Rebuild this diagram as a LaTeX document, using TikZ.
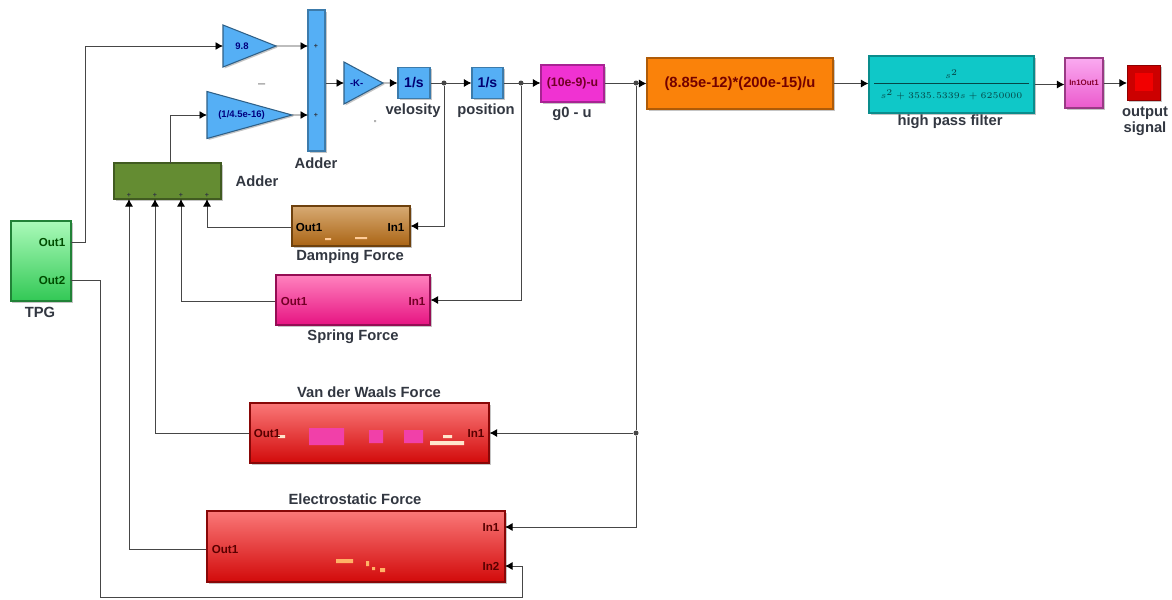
\documentclass[tikz,border=0pt]{standalone}
\usepackage{fontspec}
\setmainfont{Liberation Sans}
\usetikzlibrary{arrows.meta,shapes.geometric,shadows}
\definecolor{ink}{RGB}{50,55,65}
\definecolor{wire}{RGB}{70,70,70}
\definecolor{sky}{RGB}{85,175,245}
\definecolor{moss}{RGB}{100,140,50}
\definecolor{tangerine}{RGB}{250,130,10}
\definecolor{teal}{RGB}{15,200,200}
\definecolor{fuchsia}{RGB}{240,50,210}
\definecolor{mint}{RGB}{170,250,185}
\definecolor{leaf}{RGB}{50,200,85}
\definecolor{orchid}{RGB}{250,170,240}
\definecolor{plum}{RGB}{235,90,205}
\definecolor{sand}{RGB}{215,170,115}
\definecolor{umber}{RGB}{170,100,20}
\definecolor{rose}{RGB}{255,130,190}
\definecolor{cerise}{RGB}{230,20,130}
\definecolor{salmon}{RGB}{250,120,120}
\definecolor{crimson}{RGB}{210,10,10}
\newcommand{\zw}[2]{\makebox[0pt]{\hspace{#1}#2}}
\tikzset{
  >={Latex[length=1.5mm,width=1.6mm,black]},
  flow/.style={->,draw=wire,line width=0.55pt},
  link/.style={draw=wire,line width=0.55pt},
  blok/.style={draw=#1!70!black,fill=#1,line width=0.6pt,inner sep=0pt,align=center,
    drop shadow={opacity=0.45,shadow xshift=0.3mm,shadow yshift=-0.3mm}},
  gain/.style={isosceles triangle,isosceles triangle stretches,shape border rotate=0,anchor=west,
    draw=sky!55!black,fill=sky,line width=0.6pt,inner sep=0pt,outer sep=0pt,
    font=\fontsize{5.4}{5.6}\selectfont\bfseries,text=blue!50!black,
    drop shadow={opacity=0.45,shadow xshift=0.3mm,shadow yshift=-0.3mm}},
  subsys/.style n args={2}{draw=#2!65!black,top color=#1,bottom color=#2,line width=0.6pt,inner sep=0pt,
    drop shadow={opacity=0.45,shadow xshift=0.3mm,shadow yshift=-0.3mm}},
  tag/.style={font=\fontsize{8.4}{9.2}\selectfont\bfseries,text=ink,align=center},
  port/.style={font=\fontsize{6.6}{7}\selectfont\bfseries,text=#1},
  tick/.style={font=\fontsize{4}{4}\selectfont\bfseries,text=ink,inner sep=0pt},
  dot/.style={circle,fill=wire,inner sep=0pt,minimum size=1mm},
}
\begin{document}
\begin{tikzpicture}[x=0.2mm,y=-0.2mm]
  \useasboundingbox (0,0) rectangle (1172,599);
  \fill[white] (0,0) rectangle (1172,599);
  % top row
  \node[subsys={mint}{leaf},minimum width=12mm,minimum height=16mm] (tpg) at (41,261) {};
  \node[gain,minimum height=10.6mm,minimum width=8.4mm] (g1) at (223,46) {\zw{2.8mm}{9.8}};
  \node[gain,minimum height=17mm,minimum width=9.4mm] (g2) at (207,115) {\zw{8mm}{(1/4.5e-16)}};
  \node[blok=sky,minimum width=3.4mm,minimum height=28.2mm] (sum) at (316.5,80.5) {};
  \node[gain,minimum height=7.8mm,minimum width=8.4mm] (g3) at (344,83) {\zw{0.8mm}{-K-}};
  \node[blok=sky,minimum width=6.4mm,minimum height=6.2mm,font=\fontsize{8}{8}\selectfont\bfseries,text=blue!45!black] (int1) at (414,83) {1/s};
  \node[blok=sky,minimum width=6.2mm,minimum height=6.2mm,font=\fontsize{8}{8}\selectfont\bfseries,text=blue!45!black] (int2) at (487.5,83) {1/s};
  \node[blok=fuchsia,minimum width=12.6mm,minimum height=7.4mm,font=\fontsize{7}{8}\selectfont\bfseries,text=purple!60!black] (gap) at (572.5,83.5) {(10e-9)-u};
  \node[blok=tangerine,minimum width=37.2mm,minimum height=10.2mm,font=\fontsize{8.4}{9}\selectfont\bfseries,text=red!45!black] (cap) at (740,83.5) {(8.85e-12)*(200e-15)/u};
  \node[blok=teal,minimum width=33mm,minimum height=11.4mm] (hpf) at (951.5,84.5) {};
  \node[font=\fontsize{5.5}{5.5}\selectfont,text=teal!35!black] (hpfnum) at (951.5,74) {$s^2$};
  \node[font=\fontsize{5.5}{5.5}\selectfont,text=teal!35!black] (hpfden) at (951.5,95) {$s^2 + 3535.5339s + 6250000$};
  \draw[teal!35!black,line width=0.5pt] (hpfden.north west) -- (hpfden.north east);
  \node[subsys={orchid}{plum},minimum width=7.6mm,minimum height=10mm,font=\fontsize{4.5}{5}\selectfont\bfseries,text=purple!70!black] (io) at (1084,83) {In1Out1};
  \node[blok=red!80!black,minimum width=6.6mm,minimum height=7mm] (scope) at (1144,83) {};
  \fill[red!95!black] (1135,73) rectangle (1153,91);
  % force blocks
  \node[subsys={moss}{moss},minimum width=21.4mm,minimum height=7.2mm] (add) at (167.5,181) {};
  \node[subsys={sand}{umber},minimum width=23.6mm,minimum height=8mm] (damp) at (351,226) {};
  \node[subsys={rose}{cerise},minimum width=30.8mm,minimum height=10mm] (spring) at (353,300) {};
  \node[subsys={salmon}{crimson},minimum width=47.8mm,minimum height=12mm] (vdw) at (369.5,433) {};
  \node[subsys={salmon}{crimson},minimum width=59.6mm,minimum height=14.2mm] (elec) at (356,546.5) {};
  \fill[orange!40] (325,238) rectangle (331,240) (355,237) rectangle (367,239);
  \fill[magenta!75] (309,428) rectangle (344,445) (369,430) rectangle (383,443) (404,430) rectangle (423,443);
  \fill[orange!20] (278,435) rectangle (285,438) (443,435) rectangle (452,438) (430,441) rectangle (464,445);
  \fill[orange!60] (336,559) rectangle (353,563) (366,561) rectangle (369,566) (372,567) rectangle (375,570) (380,568) rectangle (385,572);
  % ports
  \node[port=green!30!black] (tpgo1) at (52,242) {Out1};
  \node[port=green!30!black] (tpgo2) at (52,280) {Out2};
  \node[port=black] (dampo) at (309,227) {Out1};
  \node[port=black] (dampi) at (396,227) {In1};
  \node[port=purple!60!black] (springo) at (294,301) {Out1};
  \node[port=purple!60!black] (springi) at (417,301) {In1};
  \node[port=red!35!black] (vdwo) at (267,433) {Out1};
  \node[port=red!35!black] (vdwi) at (476,433) {In1};
  \node[port=red!35!black] (eleco) at (225,549) {Out1};
  \node[port=red!35!black] (eleci1) at (491,527) {In1};
  \node[port=red!35!black] (eleci2) at (491,566) {In2};
  \node[tick] (sump1) at (316,46) {+};
  \node[tick] (sump2) at (316,115) {+};
  \foreach \x in {129,155,181,207} \node[tick] (addp\x) at (\x,195) {+};
  % labels
  \node[tag] (ltpg) at (40,312) {TPG};
  \node[tag] (lsum) at (316,163) {Adder};
  \node[tag] (ladd) at (257,181) {Adder};
  \node[tag] (lvel) at (413,111) {velosity};
  \node[tag] (lpos) at (486,111) {position};
  \node[tag] (lgap) at (572,114) {g0 - u};
  \node[tag] (lhpf) at (950,122) {high pass filter};
  \node[tag] (lout) at (1145,121) {output\\signal};
  \node[tag] (ldamp) at (350,257) {Damping Force};
  \node[tag] (lspring) at (353,337) {Spring Force};
  \node[tag] (lvdw) at (369,392) {Van der Waals Force};
  \node[tag] (lelec) at (355,499) {Electrostatic Force};
  \fill[gray!60] (258,83) rectangle (265,84.5) (374,120) rectangle (376,122);
  % junctions
  \node[dot] (j1) at (444,83) {};
  \node[dot] (j2) at (521,83) {};
  \node[dot] (j3) at (636,83) {};
  \node[dot] (j4) at (636,433) {};
  \coordinate (t1) at (71,242);
  \coordinate (t2) at (71,280);
  \coordinate (s1) at (308,46);
  \coordinate (s2) at (308,115);
  \coordinate (a0) at (170,163);
  \coordinate (a1) at (129,199);
  \coordinate (a2) at (155,199);
  \coordinate (a3) at (181,199);
  \coordinate (a4) at (207,199);
  \coordinate (e1) at (505,527);
  \coordinate (e2) at (505,566);
  \coordinate (bot) at (522,597);
  % wires
  \draw[flow] (t1) -- (85,242) |- (g1.west);
  \draw[flow] (a0) |- (g2.west);
  \draw[flow] (g1.east) -- (s1);
  \draw[flow] (g2.east) -- (s2);
  \draw[flow] (sum.east |- g3.west) -- (g3.west);
  \draw[flow] (g3.east) -- (int1);
  \draw[flow] (int1) -- (int2);
  \draw[flow] (int2) -- (gap.west |- int2);
  \draw[flow] (gap.east |- cap) -- (cap);
  \draw[flow] (cap) -- (cap -| hpf.west);
  \draw[flow] (hpf.east) -- (hpf.east -| io.west);
  \draw[flow] (io.east |- scope) -- (scope);
  \draw[flow] (j1) |- (damp.east);
  \draw[flow] (j2) |- (spring.east);
  \draw[flow] (j4) -- (vdw.east |- j4);
  \draw[link] (j3) -- (j4);
  \draw[flow] (j4) |- (e1);
  \draw[flow] (damp.west |- dampo) -| (a4);
  \draw[flow] (spring.west |- springo) -| (a3);
  \draw[flow] (vdw.west) -| (a2);
  \draw[flow] (elec.west |- eleco) -| (a1);
  \draw[flow] (t2) -- (100,280) |- (bot) |- (e2);
\end{tikzpicture}
\end{document}
